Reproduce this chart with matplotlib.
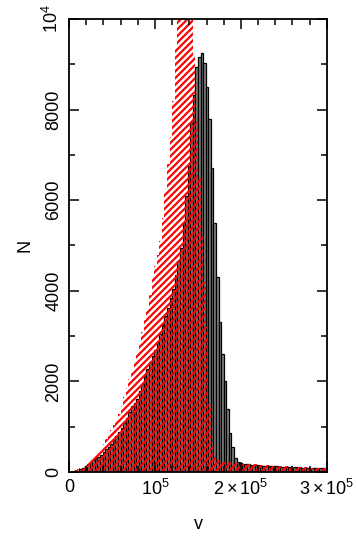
import matplotlib
matplotlib.use("Agg")
import matplotlib.pyplot as plt
import numpy as np

plt.rcParams['font.family'] = ['Liberation Sans', 'DejaVu Sans']
plt.rcParams['mathtext.fontset'] = 'custom'
plt.rcParams['mathtext.rm'] = 'Liberation Sans'
plt.rcParams['mathtext.it'] = 'Liberation Sans'
plt.rcParams['hatch.linewidth'] = 1.6

BIN_WIDTH = 3000
bin_left = np.arange(0, 300000, BIN_WIDTH)

# black histogram (counts per bin)
n_black = [0, 5, 15, 30, 60, 90, 130, 170, 220, 270,
           310, 340, 380, 440, 500, 560, 620, 700, 790, 880,
           980, 1080, 1200, 1320, 1450, 1530, 1620, 1780, 1950, 2120,
           2280, 2420, 2560, 2700, 2880, 3050, 3250, 3450, 3620, 3850,
           4050, 4350, 4650, 4950, 5500, 6100, 6750, 7700, 8320, 8940,
           9160, 9250, 9030, 8500, 7800, 6700, 5500, 4300, 3300, 2600,
           2000, 1400, 860, 550, 310, 220, 200, 185, 175, 168,
           160, 155, 150, 146, 142, 138, 135, 132, 128, 125,
           122, 120, 117, 114, 112, 110, 108, 105, 103, 100,
           98, 96, 94, 92, 90, 88, 86, 84, 82, 80]

# red hatched histogram
n_red = [5, 20, 35, 55, 80, 110, 160, 210, 260, 320,
         380, 440, 500, 620, 720, 820, 920, 1030, 1150, 1290,
         1450, 1650, 1850, 2050, 2250, 2450, 2650, 2850, 3100, 3350,
         3600, 3900, 4300, 4550, 4800, 5100, 5600, 6200, 6800, 7400,
         8200, 9400, 10500, 11200, 11800, 12000, 11500, 10500, 9200, 7800,
         6500, 5200, 4200, 3200, 1500, 600, 350, 280, 250, 230,
         220, 215, 210, 205, 200, 195, 190, 186, 182, 178,
         174, 170, 166, 162, 158, 154, 150, 147, 144, 141,
         138, 135, 132, 129, 126, 123, 120, 117, 114, 111,
         108, 105, 102, 99, 96, 93, 90, 88, 86, 84]

xticks = [0, 1e5, 2e5, 3e5]
xticklabels = ['0', r'$10^5$', r'$2\times10^5$', r'$3\times10^5$']
yticks = [0, 2000, 4000, 6000, 8000, 10000]
yticklabels = ['0', '2000', '4000', '6000', '8000', r'$10^4$']

fig = plt.figure(figsize=(3.58, 5.38), dpi=100)
ax = fig.add_axes([0.193, 0.1227, 0.72, 0.842])

ax.bar(bin_left, n_black, width=BIN_WIDTH, align='edge',
       facecolor='#808080', edgecolor='black', linewidth=0.9)
ax.bar(bin_left, n_red, width=BIN_WIDTH, align='edge',
       facecolor='none', edgecolor='red', linewidth=0, hatch='/////')

ax.set_xlim(0, 3e5)
ax.set_ylim(0, 10000)
ax.set_xticks(xticks)
ax.set_xticklabels(xticklabels, fontsize=13)
ax.set_yticks(yticks)
ax.set_yticklabels(yticklabels, fontsize=13, rotation=90, va='center')
ax.set_xticks(np.arange(0, 300001, 20000), minor=True)
ax.set_yticks(np.arange(0, 10001, 1000), minor=True)
ax.tick_params(which='both', direction='in', top=True, right=True, width=1.1)
ax.tick_params(which='major', length=7, pad=5)
ax.tick_params(which='minor', length=4)
for s in ax.spines.values():
    s.set_linewidth(1.3)

ax.set_xlabel('v', fontsize=13, labelpad=12)
ax.set_ylabel('N', fontsize=13, labelpad=6)

fig.savefig('out.png', dpi=100)
